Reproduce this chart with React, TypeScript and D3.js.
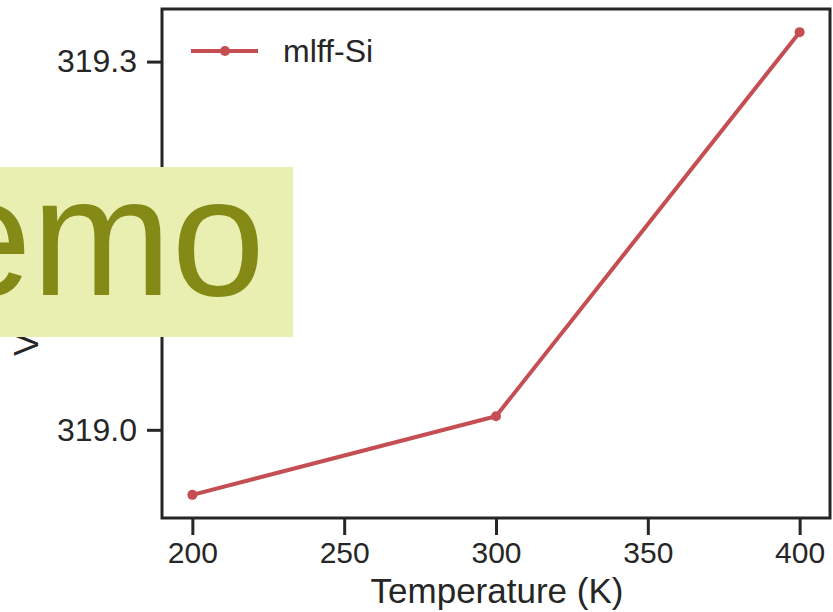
import React from "react";
import * as d3 from "d3";

const temperatures = [200, 300, 400];
const volumes = [318.947, 319.011, 319.324];
const xTicks = [200, 250, 300, 350, 400];
const yTicks = [319.0, 319.3];
const seriesName = "mlff-Si";

const FONT = "'Liberation Sans', Arial, sans-serif";
const INK = "#262626";
const RED = "#c44e52";

const App = () => {
  const svgRef = React.useRef<SVGSVGElement>(null);
  const W = 833;
  const H = 612;
  const plot = { left: 162, right: 830, top: 9, bottom: 518 };

  React.useEffect(() => {
    const svg = d3.select(svgRef.current);
    svg.selectAll("*").remove();

    // matplotlib-style 5% margins around data
    const [x0, x1] = d3.extent(temperatures) as [number, number];
    const [y0, y1] = d3.extent(volumes) as [number, number];
    const xPad = (x1 - x0) * 0.05;
    const yPad = (y1 - y0) * 0.05;
    const xScale = d3.scaleLinear().domain([x0 - xPad, x1 + xPad]).range([plot.left, plot.right]);
    const yScale = d3.scaleLinear().domain([y0 - yPad, y1 + yPad]).range([plot.bottom, plot.top]);

    // x axis
    const xAxis = d3.axisBottom(xScale).tickValues(xTicks).tickSize(17).tickPadding(7).tickFormat(d3.format("d"));
    const xg = svg.append("g").attr("transform", `translate(0,${plot.bottom})`).call(xAxis);
    xg.select(".domain").remove();
    xg.selectAll("line").attr("stroke", INK).attr("stroke-width", 3);
    xg.selectAll("text").attr("fill", INK).attr("font-size", 30).attr("font-family", FONT);

    // y axis
    const yAxis = d3.axisLeft(yScale).tickValues(yTicks).tickSize(15).tickPadding(10).tickFormat(d3.format(".1f"));
    const yg = svg.append("g").attr("transform", `translate(${plot.left},0)`).call(yAxis);
    yg.select(".domain").remove();
    yg.selectAll("line").attr("stroke", INK).attr("stroke-width", 3);
    yg.selectAll("text").attr("fill", INK).attr("font-size", 32).attr("font-family", FONT);

    // frame
    svg
      .append("rect")
      .attr("x", plot.left)
      .attr("y", plot.top)
      .attr("width", plot.right - plot.left)
      .attr("height", plot.bottom - plot.top)
      .attr("fill", "none")
      .attr("stroke", INK)
      .attr("stroke-width", 3);

    // data line
    const pts = temperatures.map((t, i) => [t, volumes[i]] as [number, number]);
    const line = d3
      .line<[number, number]>()
      .x((d) => xScale(d[0]))
      .y((d) => yScale(d[1]));
    svg
      .append("path")
      .attr("d", line(pts))
      .attr("fill", "none")
      .attr("stroke", RED)
      .attr("stroke-width", 4)
      .attr("stroke-linejoin", "round");
    svg
      .selectAll(".pt")
      .data(pts)
      .enter()
      .append("circle")
      .attr("cx", (d) => xScale(d[0]))
      .attr("cy", (d) => yScale(d[1]))
      .attr("r", 5)
      .attr("fill", RED);

    // legend
    const lg = svg.append("g");
    lg.append("line")
      .attr("x1", 191).attr("x2", 258).attr("y1", 51).attr("y2", 51)
      .attr("stroke", RED).attr("stroke-width", 4);
    lg.append("circle").attr("cx", 225).attr("cy", 51).attr("r", 5).attr("fill", RED);
    lg.append("text")
      .attr("x", 283).attr("y", 62)
      .attr("font-size", 32).attr("font-family", FONT).attr("fill", INK)
      .text(seriesName);

    // axis labels
    svg
      .append("text")
      .attr("x", (plot.left + plot.right) / 2 + 1)
      .attr("y", 603)
      .attr("text-anchor", "middle")
      .attr("font-size", 35)
      .attr("font-family", FONT)
      .attr("fill", INK)
      .text("Temperature (K)");
    svg
      .append("text")
      .attr("transform", `translate(38,${(plot.top + plot.bottom) / 2}) rotate(-90)`)
      .attr("text-anchor", "middle")
      .attr("font-size", 35)
      .attr("font-family", FONT)
      .attr("fill", INK)
      .text("Volume (Å³)");

    // watermark
    svg.append("rect").attr("x", 0).attr("y", 167).attr("width", 293).attr("height", 170).attr("fill", "#e8efb1");
    svg
      .append("text")
      .attr("x", 265)
      .attr("y", 295)
      .attr("text-anchor", "end")
      .attr("font-size", 168)
      .attr("font-family", FONT)
      .attr("fill", "#858a16")
      .text("Demo");
  }, []);

  return (
    <svg
      ref={svgRef}
      width={W}
      height={H}
      style={{ position: "absolute", left: 0, top: 0, background: "#fff" }}
    />
  );
};

export default App;
